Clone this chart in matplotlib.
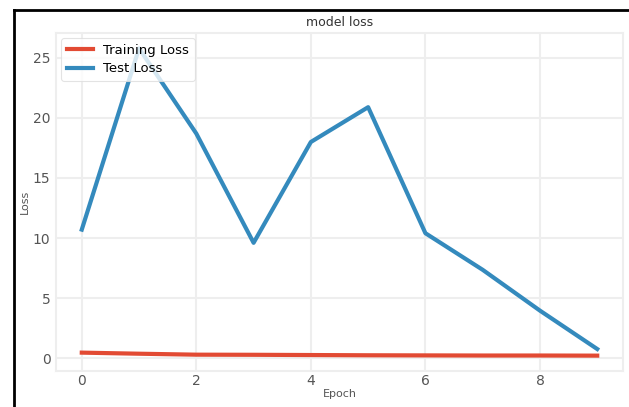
import numpy as np
import matplotlib
matplotlib.use("Agg")
import matplotlib.pyplot as plt
from matplotlib.lines import Line2D

epochs = [0, 1, 2, 3, 4, 5, 6, 7, 8, 9]
train_loss = [0.45, 0.36, 0.28, 0.27, 0.25, 0.23, 0.22, 0.21, 0.21, 0.2]
test_loss = [10.7, 25.8, 18.7, 9.6, 18.0, 20.9, 10.4, 7.35, 3.95, 0.75]

fig = plt.figure(figsize=(6.29, 4.07), dpi=100)
ax = fig.add_axes([56 / 629, 1 - 371 / 407, (623 - 56) / 629, (371 - 33) / 407])

ax.plot(epochs, train_loss, color='#E24A33', lw=3, label='Training Loss')
ax.plot(epochs, test_loss, color='#348ABD', lw=3, label='Test Loss')

ax.grid(True, color='#eeeeee', lw=1.5)
ax.set_axisbelow(True)
for s in ax.spines.values():
    s.set_color('#eeeeee')
    s.set_linewidth(1.5)
ax.tick_params(colors='#555555', labelsize=10, length=0)
ax.tick_params(axis='x', pad=2)
ax.tick_params(axis='y', pad=4)
ax.set_yticks([0, 5, 10, 15, 20, 25])
ax.set_xticks([0, 2, 4, 6, 8])

ax.set_title('model loss', fontsize=9, color='#333333', pad=5)
ax.set_xlabel('Epoch', fontsize=8, color='#555555', labelpad=1)
ax.set_ylabel('Loss', fontsize=8, color='#555555', labelpad=2)

leg = ax.legend(loc='upper left', fontsize=9.5, frameon=True, borderaxespad=0.4,
                handlelength=2.0, labelspacing=0.45)
leg.get_frame().set_edgecolor('#dddddd')
leg.get_frame().set_linewidth(0.8)

# screenshot frame (top and left edges)
fig.add_artist(Line2D([14 / 629, 1], [1 - 10 / 407, 1 - 10 / 407], color='black', lw=2, transform=fig.transFigure))
fig.add_artist(Line2D([14 / 629, 14 / 629], [0, 1 - 10 / 407], color='black', lw=2, transform=fig.transFigure))

fig.savefig('out.png', dpi=100)
